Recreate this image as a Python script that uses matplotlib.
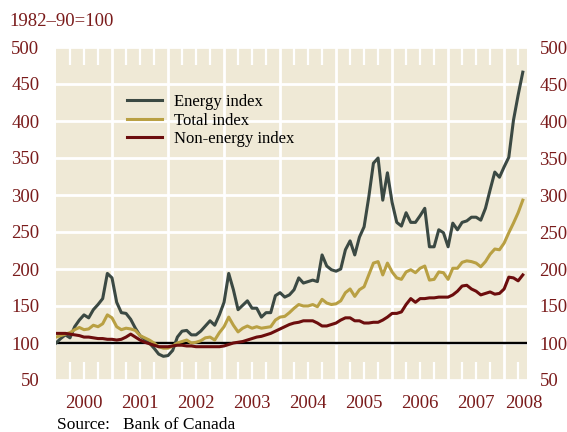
import numpy as np
import matplotlib
matplotlib.use("Agg")
import matplotlib.pyplot as plt

# monthly values, Jan 2000 .. May 2008 (1982-90=100)
energy = [100, 106, 111, 107, 122, 131, 138, 134, 145, 152, 160, 194,
          188, 155, 141, 140, 132, 120, 110, 105, 100, 93, 85, 82,
          83, 90, 108, 116, 117, 111, 111, 116, 123, 130, 124, 138,
          155, 194, 172, 145, 151, 157, 147, 147, 135, 141, 141, 164,
          168, 162, 165, 172, 188, 181, 183, 185, 183, 219, 204, 199,
          197, 200, 226, 238, 219, 243, 257, 297, 343, 350, 293, 330,
          290, 263, 258, 276, 263, 263, 272, 282, 230, 230, 253, 249,
          230, 262, 253, 263, 265, 270, 270, 266, 282, 307, 331, 324,
          338, 351, 401, 435, 466]
total = [108, 110, 112, 114, 118, 121, 118, 119, 124, 122, 126, 138,
         134, 122, 118, 120, 119, 117, 110, 107, 104, 100, 95, 93,
         93, 96, 100, 102, 104, 100, 101, 103, 107, 108, 104, 114,
         122, 135, 124, 115, 120, 123, 120, 122, 120, 121, 122, 131,
         135, 136, 141, 147, 152, 150, 150, 152, 149, 159, 154, 152,
         153, 157, 168, 173, 163, 172, 176, 192, 208, 210, 192, 208,
         196, 188, 186, 196, 199, 195, 201, 204, 185, 186, 196, 195,
         186, 201, 201, 209, 211, 210, 208, 203, 210, 220, 227, 226,
         235, 249, 262, 276, 293]
non_energy = [113, 113, 113, 112, 111, 110, 108, 108, 107, 106, 106, 105,
              105, 104, 105, 108, 112, 108, 104, 101, 99, 97, 95, 95,
              95, 96, 97, 97, 96, 96, 95, 95, 95, 95, 95, 95,
              96, 98, 100, 101, 102, 104, 106, 108, 109, 111, 113, 116,
              119, 122, 125, 127, 128, 130, 130, 130, 127, 123, 123, 125,
              127, 131, 134, 134, 130, 130, 127, 127, 128, 128, 131, 135,
              140, 140, 142, 152, 160, 155, 160, 160, 161, 161, 162, 162,
              162, 165, 170, 177, 178, 173, 170, 165, 167, 169, 166, 167,
              173, 189, 188, 184, 192]
years = ["2000", "2001", "2002", "2003", "2004", "2005", "2006", "2007", "2008"]
y_ticks = list(range(50, 501, 50))

months = np.arange(len(energy))

BG = "#efe9d6"
RED = "#7a1b1b"
plt.rcParams["font.family"] = ["Liberation Serif", "DejaVu Serif"]

fig = plt.figure(figsize=(5.67, 4.32), dpi=100)
ax = fig.add_axes([56 / 567, 1 - 380 / 432, 471 / 567, 333 / 432])
ax.set_facecolor(BG)
for s in ax.spines.values():
    s.set_visible(False)

ax.set_xlim(0, 100.9)
ax.set_ylim(50, 500)

# grid: year boundaries and every 50 points
ax.set_xticks(np.arange(12, 100, 12))
ax.set_xticklabels([])
ax.set_xticks([m for m in range(3, 101, 3) if m % 12], minor=True)
ax.tick_params(axis="x", which="major", length=0)
ax.tick_params(axis="x", which="minor", direction="in", top=True, bottom=True,
               length=13, width=1.6, color="white")
ax.set_yticks(y_ticks)
ax.tick_params(axis="y", length=0, labelsize=13.5, labelcolor=RED, pad=12)
ax.grid(True, which="major", color="white", lw=2)
ax.set_axisbelow(True)

ax2 = ax.twinx()
ax2.set_ylim(ax.get_ylim())
ax2.set_yticks(y_ticks)
ax2.tick_params(axis="y", length=0, labelsize=13.5, labelcolor=RED, pad=9)
for s in ax2.spines.values():
    s.set_visible(False)

# year labels under the middle of each year (2008 pulled in to fit)
lab_pos = [6 + 12 * i for i in range(8)] + [100.2]
sec = ax.secondary_xaxis("bottom")
sec.set_xticks(lab_pos, years)
sec.tick_params(length=0, labelsize=13.5, labelcolor=RED, pad=11)
sec.spines["bottom"].set_visible(False)

ax.axhline(100, color="black", lw=1.7, zorder=3)
ax.plot(months, energy, color="#3b4943", lw=2.2, label="Energy index", zorder=4)
ax.plot(months, total, color="#b9a043", lw=2.2, label="Total index", zorder=4)
ax.plot(months, non_energy, color="#6c0d0d", lw=2.2, label="Non-energy index", zorder=4)

ax.legend(loc="upper left", bbox_to_anchor=(0.151, 0.858), frameon=False,
          fontsize=12, handlelength=2.1, handletextpad=0.7, labelspacing=0.15,
          borderpad=0, borderaxespad=0)

fig.text(9 / 567, 1 - 21 / 432, "1982\u201390=100", color=RED, fontsize=13.5,
         ha="left", va="center")
fig.text(57 / 567, 1 - 425 / 432, "Source:   Bank of Canada", color="black",
         fontsize=12.5, ha="left", va="center")

fig.savefig("out.png", dpi=100)
